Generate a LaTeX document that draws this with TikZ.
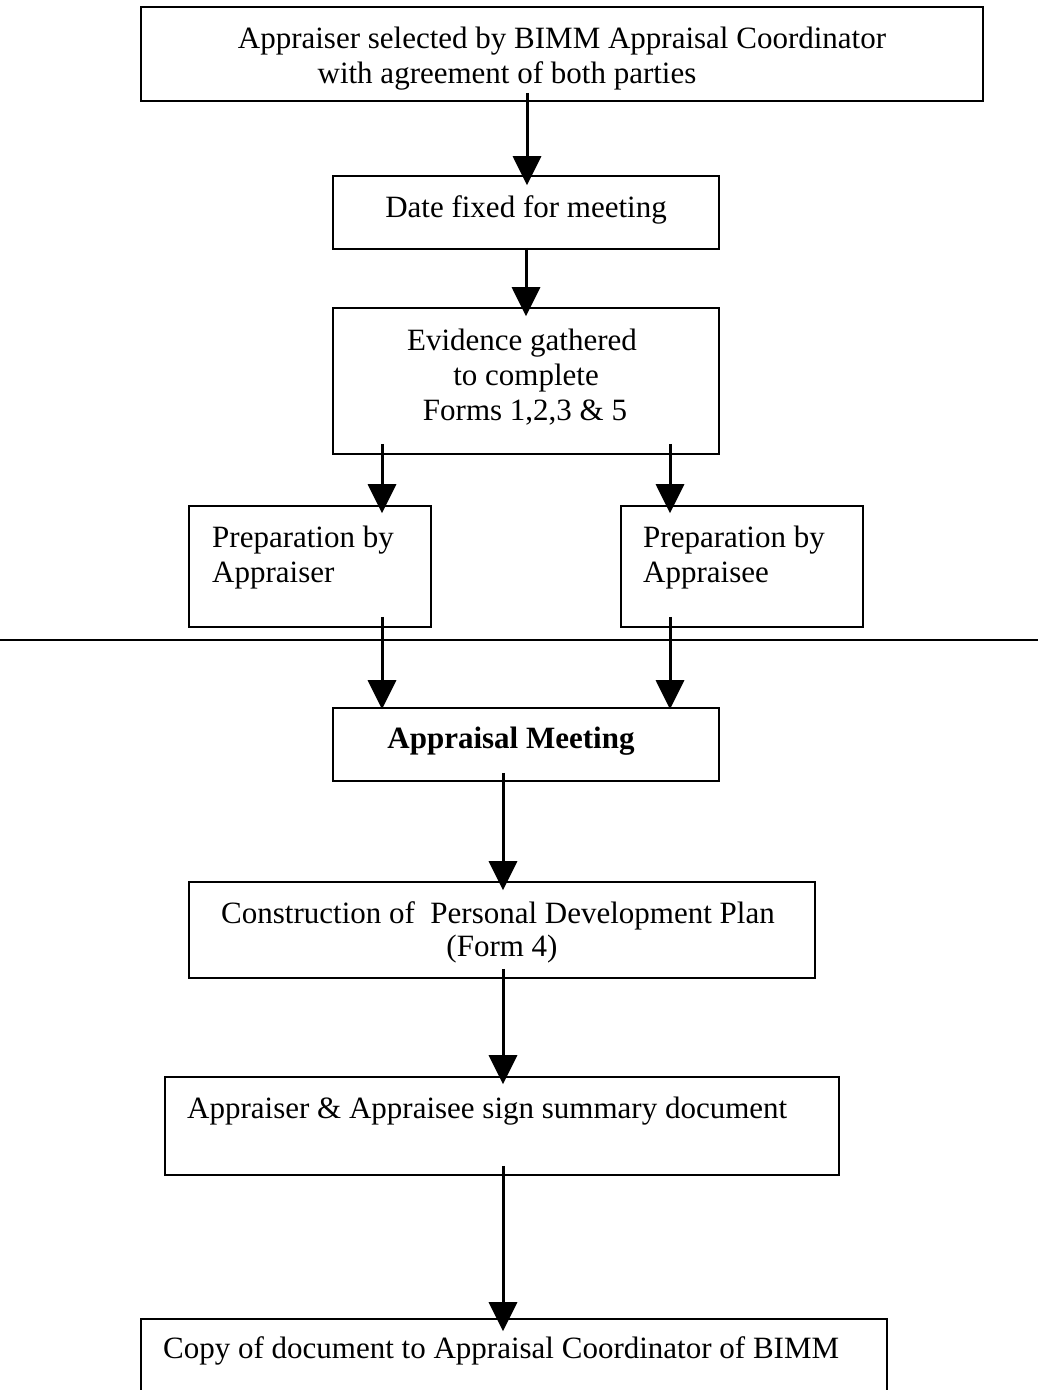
\documentclass[tikz,border=0pt]{standalone}
\usepackage{fontspec}
\setmainfont{Liberation Serif}
\usetikzlibrary{arrows.meta,calc}
\begin{document}
\begin{tikzpicture}[x=1pt,y=-1pt,
  every node/.style={font=\fontsize{31}{35}\selectfont},
  box/.style={draw,line width=1.6pt,rectangle,inner sep=0pt},
  txt/.style={inner sep=0pt,anchor=base},
  ltxt/.style={inner sep=0pt,anchor=base west},
  arr/.style={line width=3pt,-{Triangle[width=28pt,length=29pt]}},
  rule/.style={line width=2pt}]
\useasboundingbox (0,0) rectangle (1038,1390);
\clip (0,0) rectangle (1038,1390);
\fill[white] (0,0) rectangle (1038,1390);

% boxes
\node[box,minimum width=842pt,minimum height=94pt] (b1) at (562,54) {};
\node[box,minimum width=386pt,minimum height=73pt] (b2) at (526,212.5) {};
\node[box,minimum width=386pt,minimum height=146pt] (b3) at (526,381) {};
\node[box,minimum width=242pt,minimum height=121pt] (b4) at (310,566.5) {};
\node[box,minimum width=242pt,minimum height=121pt] (b5) at (742,566.5) {};
\node[box,minimum width=386pt,minimum height=73pt] (b6) at (526,744.5) {};
\node[box,minimum width=626pt,minimum height=96pt] (b7) at (502,930) {};
\node[box,minimum width=674pt,minimum height=98pt] (b8) at (502,1126) {};
\node[box,minimum width=746pt,minimum height=120pt] (b9) at (514,1379) {};

% texts
\node[txt] (t1a) at (562,48) {Appraiser selected by BIMM Appraisal Coordinator};
\node[txt] (t1b) at (507,83) {with agreement of both parties};
\node[txt] (t2) at (526,217) {Date fixed for meeting};
\node[txt] (t3a) at (522,350) {Evidence gathered};
\node[txt] (t3b) at (526,385) {to complete};
\node[txt] (t3c) at (525,420) {Forms 1,2,3 \& 5};
\node[ltxt] (t4a) at (212,547) {Preparation by};
\node[ltxt] (t4b) at (212,582) {Appraiser};
\node[ltxt] (t5a) at (643,547) {Preparation by};
\node[ltxt] (t5b) at (643,582) {Appraisee};
\node[txt] (t6) at (511,748) {\bfseries Appraisal Meeting};
\node[txt] (t7a) at (498,923) {Construction of\ \ Personal Development Plan};
\node[txt] (t7b) at (502,956) {(Form 4)};
\node[ltxt] (t8) at (187,1118) {Appraiser \& Appraisee sign summary document};
\node[ltxt] (t9) at (163,1358) {Copy of document to Appraisal Coordinator of BIMM};

% separator line
\coordinate (hl) at (0,640);
\coordinate (hr) at (1038,640);
\draw[rule] (hl) -- (hr);

% connectors
\draw[arr] ($(b1.south)+(-35,-9)$) -- ($(b2.north)+(1,10)$);
\draw[arr] ($(b2.south)+(0,-2)$) -- ($(b3.north)+(0,9)$);
\draw[arr] ($(b3.south)+(-144,-11)$) -- ($(b4.north)+(72,8)$);
\draw[arr] ($(b3.south)+(144,-11)$) -- ($(b5.north)+(-72,8)$);
\draw[arr] ($(b4.south)+(72,-11)$) -- ($(b6.north)+(-144,2)$);
\draw[arr] ($(b5.south)+(-72,-11)$) -- ($(b6.north)+(144,2)$);
\draw[arr] ($(b6.south)+(-23,-9)$) -- ($(b7.north)+(1,9)$);
\draw[arr] ($(b7.south)+(1,-10)$) -- ($(b8.north)+(1,8)$);
\draw[arr] ($(b8.south)+(1,-10)$) -- ($(b9.north)+(-11,13)$);
\end{tikzpicture}
\end{document}
